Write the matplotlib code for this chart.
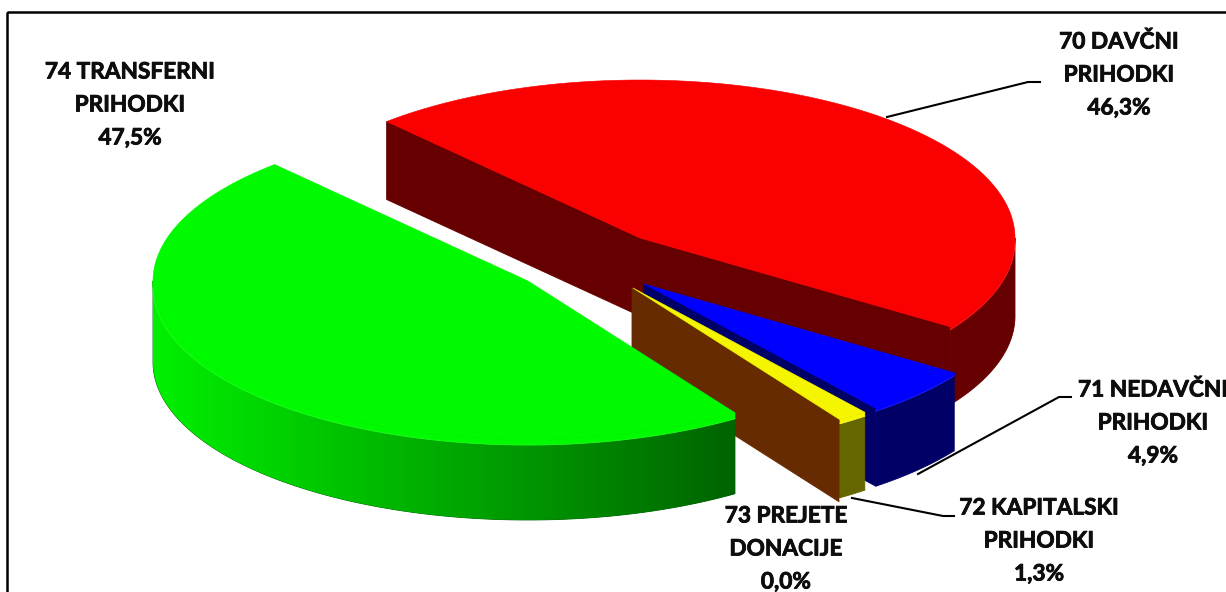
import numpy as np
import matplotlib
matplotlib.use("Agg")
import matplotlib.pyplot as plt
import matplotlib.patheffects as pe
from matplotlib.patches import Polygon, Rectangle

plt.rcParams['font.family'] = ['Lato', 'DejaVu Sans']

names = ['70 DAVČNI\nPRIHODKI', '71 NEDAVČNI\nPRIHODKI', '72 KAPITALSKI\nPRIHODKI',
         '73 PREJETE\nDONACIJE', '74 TRANSFERNI\nPRIHODKI']
values = [46.3, 4.9, 1.3, 0.0, 47.5]

top_colors = ['#fa0000', '#0000ff', '#f5f500', '#c05000', '#00fa00']
side_colors = ['#660000', '#000066', '#666600', '#662b00', '#006600']
rim_colors = ['#ff3030', '#3030ff', '#ffff50', '#c05000', '#30ff30']

# where each slice sits on the picture (pixels)
centers = [(640, 238), (644, 284), (633, 288), (632, 288), (528, 281)]
depths = [78, 78, 78, 82, 81]
bevels = [3, 3, 4, 0, 6]
label_pos = [(1119, 75), (1153, 423), (1039, 541), (786, 549), (130, 105)]
leaders = [([887, 1028, 1040], [117, 82, 82]),
           ([918, 1059, 1071], [474, 397, 397]),
           ([852, 943, 954], [498, 516, 516])]

rx, ry = 375, 158
start_angle = 132.5


def rim(cx, cy, a1, a2, dy=0):
    t = np.radians(np.linspace(a1, a2, 160))
    return np.column_stack([cx + rx * np.cos(t), cy - ry * np.sin(t) + dy])


fig = plt.figure(figsize=(12.26, 5.92), dpi=100)
ax = fig.add_axes([0, 0, 1, 1])

angle = start_angle
for i, v in enumerate(values):
    a1 = angle
    a2 = angle - v * 3.6
    angle = a2
    cx, cy = centers[i]
    depth = depths[i]
    side = dict(fc=side_colors[i], ec=side_colors[i], lw=0.6, joinstyle='round')

    # flat cut faces, only those turned to the viewer
    if v > 0 and np.sin(np.radians(a1 + 90)) < 0:
        p = rim(cx, cy, a1, a1)[0]
        ax.add_patch(Polygon([(cx, cy), p, p + (0, depth), (cx, cy + depth)], **side))
    if v == 0 or np.sin(np.radians(a2 - 90)) < 0:
        p = rim(cx, cy, a2, a2)[0]
        ax.add_patch(Polygon([(cx, cy), p, p + (0, depth), (cx, cy + depth)], **side))
    if v == 0:
        continue

    # outer wall, front half only
    hi = min(a1, 0)
    lo = max(a2, -180)
    has_wall = hi > lo
    if has_wall:
        wall = np.vstack([rim(cx, cy, hi, lo), rim(cx, cy, lo, hi, depth)])
        pg = Polygon(wall, **side)
        ax.add_patch(pg)
        if i == 4:
            # green wall goes from bright on the left to dark on the right
            shade = np.linspace(0, 1, 256)
            grad = np.zeros((1, 256, 3))
            grad[0, :, 1] = (240 - 140 * shade) / 255
            im = ax.imshow(grad, extent=(wall[:, 0].min(), wall[:, 0].max(), 592, 0), aspect='auto',
                           interpolation='bilinear', zorder=1.5)
            im.set_clip_path(pg)

    top = np.vstack([[(cx, cy)], rim(cx, cy, a1, a2)])
    ax.add_patch(Polygon(top, fc=top_colors[i], ec=top_colors[i], lw=0.4, zorder=2 + i))
    if has_wall:
        # rounded edge between top and wall
        band = np.vstack([rim(cx, cy, hi, lo), rim(cx, cy, lo, hi, bevels[i])])
        ax.add_patch(Polygon(band, fc=top_colors[i], ec=top_colors[i], lw=0.4, zorder=2 + i))
        edge = rim(cx, cy, hi, lo, bevels[i])
        ax.plot(edge[:, 0], edge[:, 1], color=rim_colors[i], lw=0.7, alpha=0.6, zorder=2.5 + i)

for xs, ys in leaders:
    ax.plot(xs, ys, color='black', lw=1.5, zorder=20, solid_joinstyle='round')

for name, v, (x, y) in zip(names, values, label_pos):
    pct = f'{v:.1f}%'.replace('.', ',')
    lines = name.split('\n') + [pct]
    for k, line in enumerate(lines):
        t = ax.text(x, y + (k - 1) * 33, line, ha='center', va='center', fontsize=16.3,
                    fontweight='bold', color='#0d0d0d', zorder=21)
        t.set_path_effects([pe.withStroke(linewidth=0.6, foreground='#0d0d0d')])

ax.add_patch(Rectangle((7, 12), 1400, 800, fc='none', ec='black', lw=1.8, zorder=25))

ax.set_xlim(0, 1226)
ax.set_ylim(592, 0)
ax.axis('off')
fig.savefig('out.png', dpi=100)
